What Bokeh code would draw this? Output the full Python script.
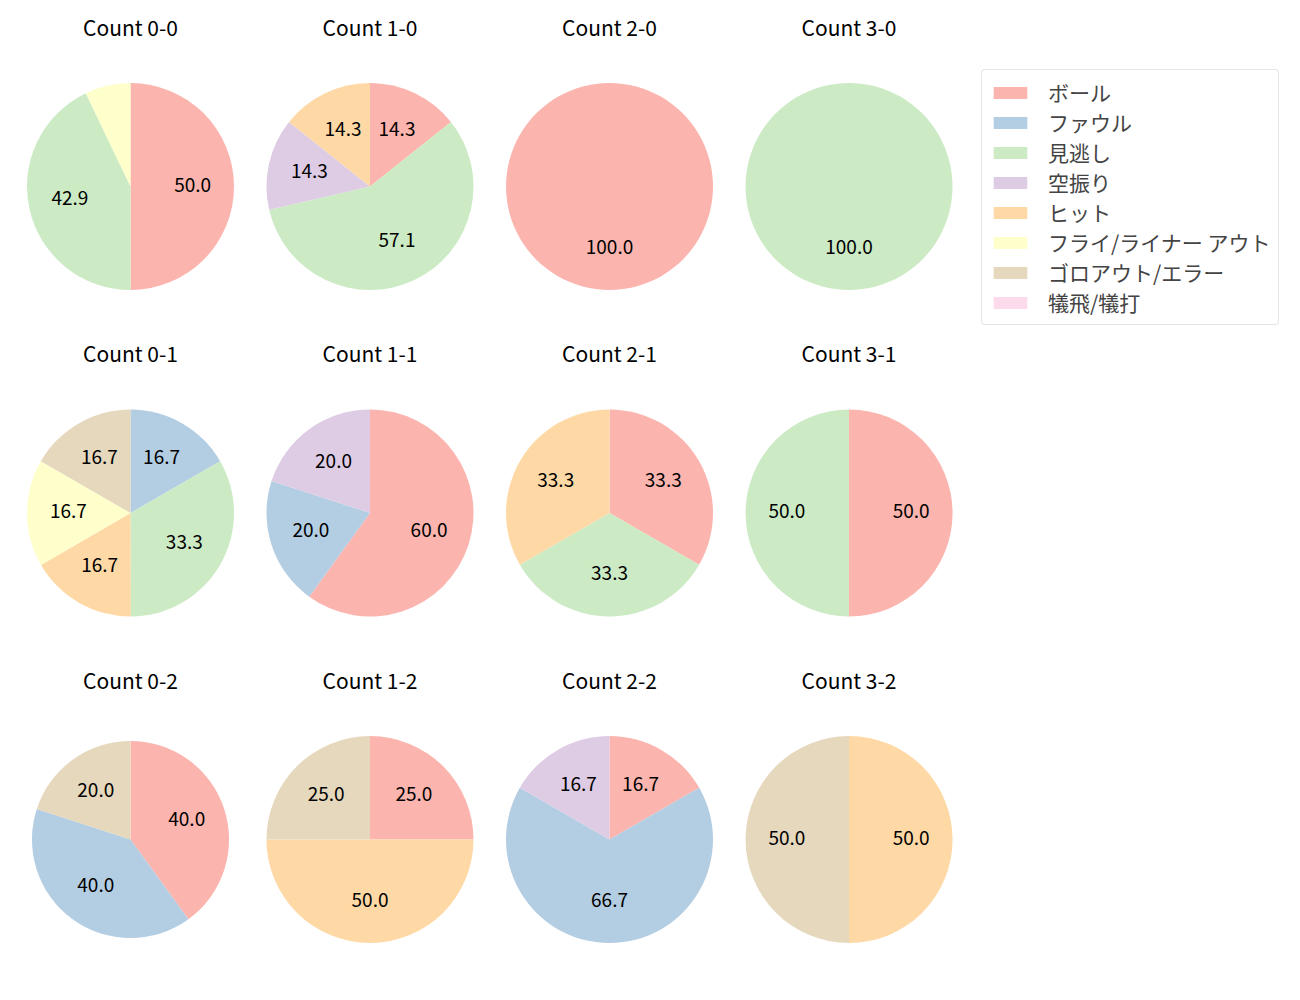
import math
from bokeh.plotting import figure
from bokeh.models import ColumnDataSource, Range1d, Legend, LegendItem
from bokeh.core.properties import value
from bokeh.embed import file_html
from bokeh.resources import INLINE

# ---------------- data ----------------
categories = ["ボール", "ファウル", "見逃し", "空振り", "ヒット",
              "フライ/ライナー アウト", "ゴロアウト/エラー", "犠飛/犠打"]
colors = ["#fbb4ae", "#b3cde3", "#ccebc5", "#decbe4", "#fed9a6",
          "#ffffcc", "#e5d8bd", "#fddaec"]

balls = [0, 1, 2, 3]
strikes = [0, 1, 2]

# percentages per count, in category order
pct_0_0 = [50.0, 0, 42.9, 0, 0, 7.1, 0, 0]
pct_1_0 = [14.3, 0, 57.1, 14.3, 14.3, 0, 0, 0]
pct_2_0 = [100.0, 0, 0, 0, 0, 0, 0, 0]
pct_3_0 = [0, 0, 100.0, 0, 0, 0, 0, 0]
pct_0_1 = [0, 16.7, 33.3, 0, 16.7, 16.7, 16.7, 0]
pct_1_1 = [60.0, 20.0, 0, 20.0, 0, 0, 0, 0]
pct_2_1 = [33.3, 0, 33.3, 0, 33.3, 0, 0, 0]
pct_3_1 = [50.0, 0, 50.0, 0, 0, 0, 0, 0]
pct_0_2 = [40.0, 40.0, 0, 0, 0, 0, 20.0, 0]
pct_1_2 = [25.0, 0, 0, 0, 50.0, 0, 25.0, 0]
pct_2_2 = [16.7, 66.7, 0, 16.7, 0, 0, 0, 0]
pct_3_2 = [0, 0, 0, 0, 50.0, 0, 50.0, 0]

pies = {
    (0, 0): pct_0_0, (1, 0): pct_1_0, (2, 0): pct_2_0, (3, 0): pct_3_0,
    (0, 1): pct_0_1, (1, 1): pct_1_1, (2, 1): pct_2_1, (3, 1): pct_3_1,
    (0, 2): pct_0_2, (1, 2): pct_1_2, (2, 2): pct_2_2, (3, 2): pct_3_2,
}

# ---------------- layout ----------------
W, H = 1300, 1000
FONT = "Noto Sans CJK JP"
col_x = [130, 369.5, 609, 848.5]
row_y = [186, 512.5, 839]          # pixel rows from top
base_r = 103.5
r_scale = {(0, 2): 0.952}
label_frac = 0.6
label_dy = 2
min_label = 10.0
title_up = 160

p = figure(width=W, height=H, x_range=Range1d(0, W), y_range=Range1d(0, H),
           output_backend="svg", toolbar_location=None,
           x_axis_type=None, y_axis_type=None, min_border=0,
           outline_line_color=None)
p.grid.visible = False
p.background_fill_color = "white"
p.border_fill_color = "white"

wedges = {i: dict(x=[], y=[], r=[], s=[], e=[]) for i in range(len(categories))}
lab = dict(x=[], y=[], t=[])
tit = dict(x=[], y=[], t=[])


def add_wedge(i, cx, cy, r, a_start, a_end):
    wedges[i]["x"].append(cx)
    wedges[i]["y"].append(cy)
    wedges[i]["r"].append(r)
    wedges[i]["s"].append(math.radians(a_start))
    wedges[i]["e"].append(math.radians(a_end))


for (b, s), vals in pies.items():
    cx = col_x[b]
    cy = H - row_y[s]
    r = base_r * r_scale.get((b, s), 1.0)
    tot = sum(vals)
    cum = 0.0
    for i, v in enumerate(vals):
        if v <= 0:
            continue
        a0 = 90 - 360 * cum / tot
        a1 = 90 - 360 * (cum + v) / tot
        if a0 - a1 >= 359.99:
            add_wedge(i, cx, cy, r, a1, a0 - 0.01)
        else:
            add_wedge(i, cx, cy, r, a1, a0)
        if v >= min_label:
            am = math.radians((a0 + a1) / 2)
            lab["x"].append(cx + label_frac * r * math.cos(am))
            lab["y"].append(cy + label_frac * r * math.sin(am) + label_dy)
            lab["t"].append(f"{v:.1f}")
        cum += v
    tit["x"].append(cx)
    tit["y"].append(cy + title_up)
    tit["t"].append(f"Count {b}-{s}")

# categories without any slice still need a legend swatch: zero-radius wedge
for i in wedges:
    if not wedges[i]["x"]:
        add_wedge(i, col_x[0], H - row_y[0], 0.0, 0.0, 0.0)

items = []
for i, c in enumerate(categories):
    src = ColumnDataSource(wedges[i])
    rr = p.wedge(x="x", y="y", radius="r", start_angle="s", end_angle="e",
                 direction="anticlock", source=src,
                 fill_color=colors[i], line_color=None)
    items.append(LegendItem(label=c, renderers=[rr]))

p.text(x="x", y="y", text="t", source=ColumnDataSource(lab),
       text_align="center", text_baseline="middle",
       text_font=value(FONT), text_font_size="19px", text_color="#000000")
p.text(x="x", y="y", text="t", source=ColumnDataSource(tit),
       text_align="center", text_baseline="middle",
       text_font=value(FONT), text_font_size="21px", text_color="#000000")

legend = Legend(items=items, location=(981, 675), orientation="vertical",
                glyph_width=42, glyph_height=15, label_height=15,
                label_standoff=17, padding=7, spacing=0, margin=0,
                label_text_font=FONT, label_text_font_size="21px",
                border_line_color="#cccccc", border_line_width=1,
                background_fill_color="white", background_fill_alpha=1)
if "border_radius" in Legend.properties():
    legend.border_radius = 4
p.add_layout(legend)

open("out.html", "w").write(file_html(p, INLINE))
